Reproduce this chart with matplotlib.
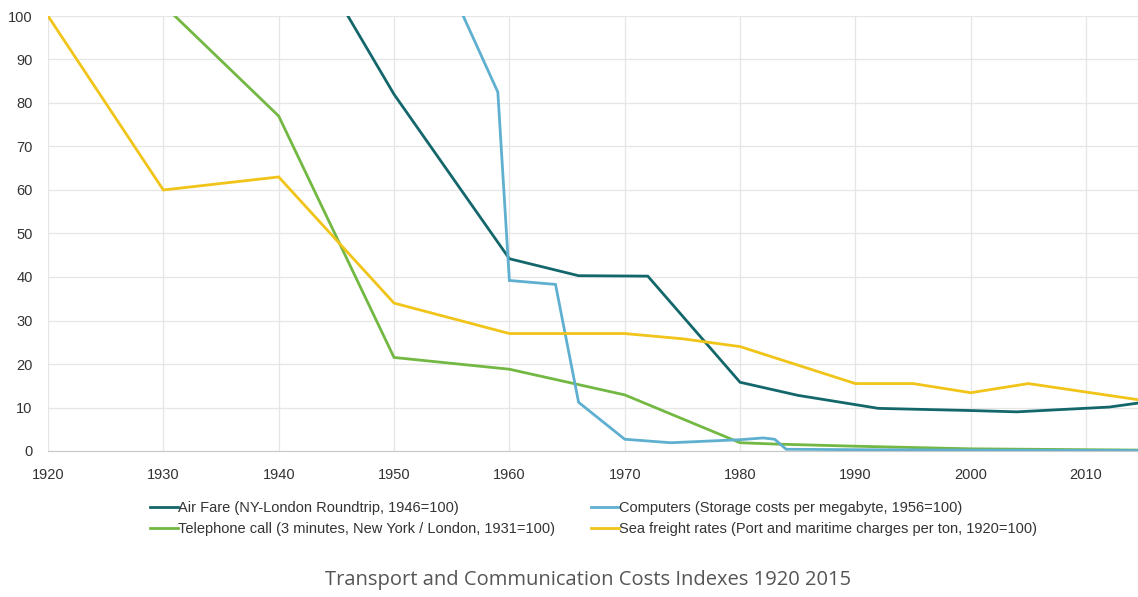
import matplotlib
matplotlib.use("Agg")
import matplotlib.pyplot as plt

# Index series (year, value)
air_years = [1946, 1950, 1960, 1966, 1972, 1980, 1985, 1992, 2000, 2004, 2012, 2015]
air_vals = [100, 82, 44.2, 40.3, 40.2, 15.8, 12.8, 9.8, 9.3, 9.0, 10.1, 11.2]

comp_years = [1956, 1959, 1960, 1964, 1966, 1970, 1974, 1980, 1982, 1983, 1984, 1990, 2000, 2015]
comp_vals = [100, 82.5, 39.2, 38.3, 11.2, 2.7, 1.9, 2.6, 3.0, 2.7, 0.4, 0.3, 0.2, 0.1]

tel_years = [1931, 1940, 1950, 1960, 1970, 1980, 1983, 1990, 2000, 2015]
tel_vals = [100, 77, 21.5, 18.8, 12.9, 1.9, 1.6, 1.1, 0.5, 0.2]

sea_years = [1920, 1930, 1940, 1950, 1960, 1970, 1975, 1980, 1990, 1995, 2000, 2005, 2015]
sea_vals = [100, 60, 63, 34, 27, 27, 25.8, 24, 15.5, 15.5, 13.4, 15.5, 11.6]

labels = [
    "Air Fare (NY-London Roundtrip, 1946=100)",
    "Telephone call (3 minutes, New York / London, 1931=100)",
    "Computers (Storage costs per megabyte, 1956=100)",
    "Sea freight rates (Port and maritime charges per ton, 1920=100)",
]
colors = ["#13676b", "#72b843", "#5fafd0", "#f0c419"]

x_ticks = list(range(1920, 2011, 10))
y_ticks = list(range(0, 101, 10))

plt.rcParams["font.family"] = ["Liberation Sans", "DejaVu Sans"]

W, H = 1138, 597
fig = plt.figure(figsize=(W / 100, H / 100), dpi=100)
ax = fig.add_axes([48 / W, (H - 451) / H, (W - 48) / W, (451 - 16) / H])

series = [(air_years, air_vals), (tel_years, tel_vals),
          (comp_years, comp_vals), (sea_years, sea_vals)]
for (xs, ys), lab, col in zip(series, labels, colors):
    ax.plot(xs, ys, color=col, lw=2.0, label=lab, solid_joinstyle="miter")

ax.set_xlim(1920, 2014.5)
ax.set_ylim(0, 100)
ax.set_xticks(x_ticks)
ax.set_yticks(y_ticks)
ax.grid(True, color="#e6e6e6", lw=0.9)
ax.set_axisbelow(True)
for s in ["top", "right", "left"]:
    ax.spines[s].set_visible(False)
ax.spines["bottom"].set_color("#c8c8c8")
ax.tick_params(length=0, labelsize=10.5, colors="#333333")
ax.tick_params(axis="x", pad=12)
ax.tick_params(axis="y", pad=11)

leg = fig.legend(loc="upper left", bbox_to_anchor=(150 / W, 1 - 501 / H), ncol=2,
                 frameon=False, fontsize=10.5, handlelength=1.9, handletextpad=0.0,
                 columnspacing=2.5, labelspacing=0.5, borderaxespad=0, borderpad=0)
for t in leg.get_texts():
    t.set_color("#333333")

fig.text(588 / W, 1 - 580 / H, "Transport and Communication Costs Indexes 1920 2015",
         ha="center", va="center", fontsize=14.5, color="#555555",
         family=["Open Sans", "DejaVu Sans"])

fig.savefig("out.png", dpi=100)
